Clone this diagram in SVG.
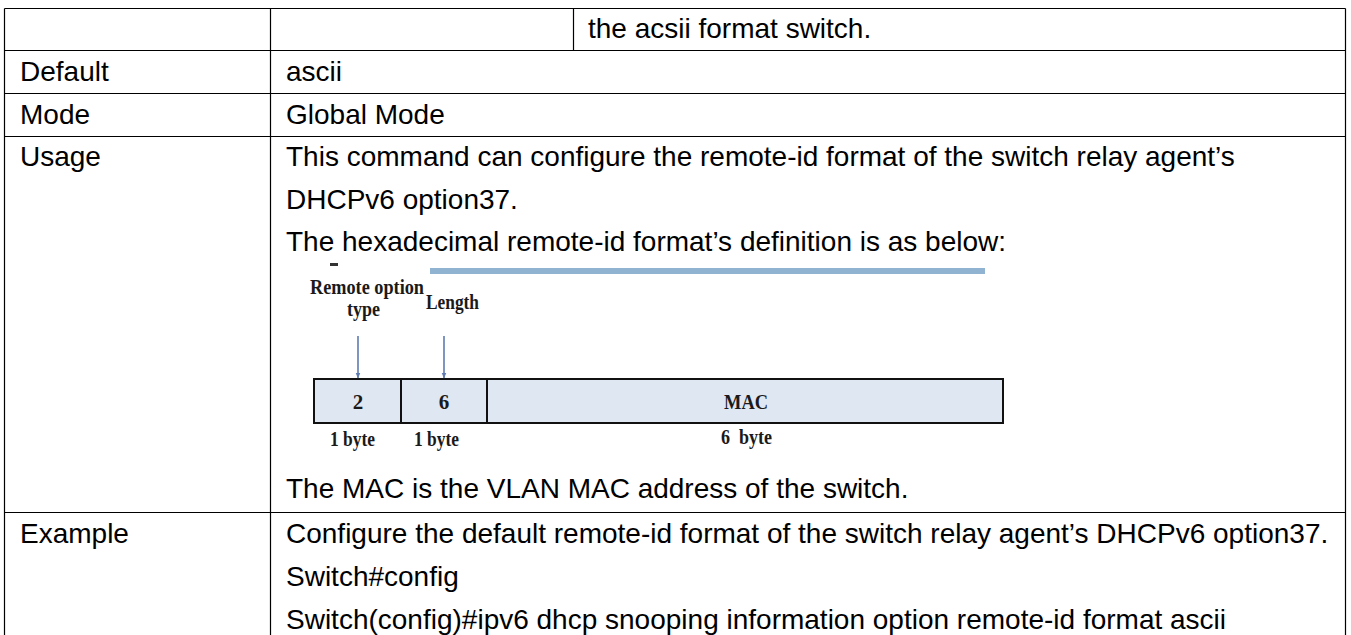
<svg xmlns="http://www.w3.org/2000/svg" width="1351" height="635" viewBox="0 0 1351 635">
  <defs>
    <style>
      .t { font-family: "Liberation Sans", Arial, sans-serif; font-size: 28px; fill: #000; }
      .d { font-family: "Liberation Serif", "Times New Roman", serif; font-weight: bold; font-size: 21px; fill: #1a1a1a; }
      .grid { stroke: #000; stroke-width: 1.2; fill: none; }
      .cell { fill: #dfe7f2; stroke: #111; stroke-width: 2; }
      .arr { stroke: #5f7bb0; stroke-width: 1.6; fill: none; }
    </style>
    <marker id="ah" viewBox="0 0 10 10" refX="9" refY="5" markerWidth="6" markerHeight="6" orient="auto" markerUnits="userSpaceOnUse">
      <path d="M0,1 L10,5 L0,9 z" fill="#5f7bb0"/>
    </marker>
  </defs>
  <rect x="0" y="0" width="1351" height="635" fill="#fff"/>

  <g id="table-grid">
    <line class="grid" x1="4.5" y1="8.5" x2="1345.5" y2="8.5"/>
    <line class="grid" x1="4.5" y1="50.5" x2="1345.5" y2="50.5"/>
    <line class="grid" x1="4.5" y1="93.5" x2="1345.5" y2="93.5"/>
    <line class="grid" x1="4.5" y1="136.5" x2="1345.5" y2="136.5"/>
    <line class="grid" x1="4.5" y1="512.5" x2="1345.5" y2="512.5"/>
    <line class="grid" x1="4.5" y1="8.5" x2="4.5" y2="635"/>
    <line class="grid" x1="270.5" y1="8.5" x2="270.5" y2="635"/>
    <line class="grid" x1="573.5" y1="8.5" x2="573.5" y2="50.5"/>
    <line class="grid" x1="1345.5" y1="8.5" x2="1345.5" y2="635"/>
  </g>

  <g id="row-top">
    <text class="t" x="588" y="38">the acsii format switch.</text>
  </g>
  <g id="row-default">
    <text class="t" x="20" y="81">Default</text>
    <text class="t" x="286" y="81">ascii</text>
  </g>
  <g id="row-mode">
    <text class="t" x="20" y="124">Mode</text>
    <text class="t" x="286" y="124">Global Mode</text>
  </g>
  <g id="row-usage">
    <text class="t" x="20" y="166">Usage</text>
    <text class="t" x="286" y="166">This command can configure the remote-id format of the switch relay agent’s</text>
    <text class="t" x="286" y="209">DHCPv6 option37.</text>
    <text class="t" x="286" y="251">The hexadecimal remote-id format’s definition is as below:</text>
    <text class="t" x="286" y="498">The MAC is the VLAN MAC address of the switch.</text>
  </g>
  <g id="row-example">
    <text class="t" x="20" y="543">Example</text>
    <text class="t" x="286" y="543">Configure the default remote-id format of the switch relay agent’s DHCPv6 option37.</text>
    <text class="t" x="286" y="586">Switch#config</text>
    <text class="t" x="286" y="629">Switch(config)#ipv6 dhcp snooping information option remote-id format ascii</text>
  </g>

  <g id="format-figure">
    <rect x="430" y="268" width="555" height="6" fill="#8fb3d0"/>
    <rect x="330" y="263" width="8" height="3" fill="#333"/>
    <g id="label-remote-option">
      <text class="d" x="310" y="294" textLength="114" lengthAdjust="spacingAndGlyphs">Remote option</text>
      <text class="d" x="347" y="316" textLength="33" lengthAdjust="spacingAndGlyphs">type</text>
    </g>
    <g id="label-length">
      <text class="d" x="426" y="309" textLength="53" lengthAdjust="spacingAndGlyphs">Length</text>
    </g>
    <g id="field-type">
      <rect class="cell" x="314" y="379" width="87" height="44"/>
      <text class="d" x="358" y="409" text-anchor="middle">2</text>
      <text class="d" x="330" y="446" textLength="45" lengthAdjust="spacingAndGlyphs">1 byte</text>
    </g>
    <g id="field-length">
      <rect class="cell" x="401" y="379" width="86" height="44"/>
      <text class="d" x="444" y="409" text-anchor="middle">6</text>
      <text class="d" x="414" y="446" textLength="45" lengthAdjust="spacingAndGlyphs">1 byte</text>
    </g>
    <g id="field-mac">
      <rect class="cell" x="487" y="379" width="516" height="44"/>
      <text class="d" x="724" y="409" textLength="44" lengthAdjust="spacingAndGlyphs">MAC</text>
      <text class="d" x="721" y="444" textLength="51" lengthAdjust="spacingAndGlyphs" xml:space="preserve">6  byte</text>
    </g>
    <g id="connectors">
      <line class="arr" x1="358" y1="336" x2="358" y2="378" marker-end="url(#ah)"/>
      <line class="arr" x1="444" y1="336" x2="444" y2="378" marker-end="url(#ah)"/>
    </g>
  </g>
</svg>
